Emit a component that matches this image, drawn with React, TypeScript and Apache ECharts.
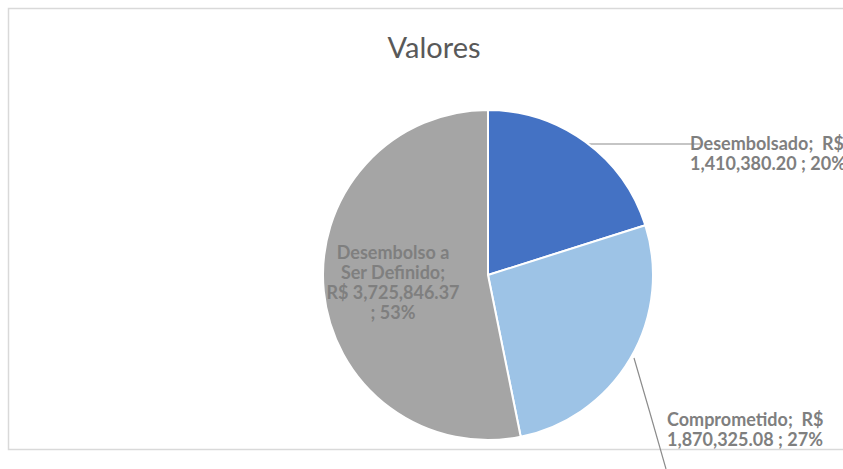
import React, { useEffect, useRef } from "react";
import * as echarts from "echarts";

const categories = ["Desembolsado", "Comprometido", "Desembolso a Ser Definido"];
const values = [1410380.2, 1870325.08, 3725846.37];
const percents = ["20%", "27%", "53%"];
const colors = ["#4472C4", "#9DC3E6", "#A5A5A5"];
const chartTitle = "Valores";

const fmt = (v: number) =>
  v.toLocaleString("en-US", { minimumFractionDigits: 2, maximumFractionDigits: 2 });

const labelTexts = [
  `Desembolsado;  R$\n${fmt(values[0])} ; ${percents[0]}`,
  `Comprometido;  R$\n${fmt(values[1])} ; ${percents[1]}`,
  `Desembolso a\nSer Definido;\nR$ ${fmt(values[2])}\n; ${percents[2]}`,
];

export default function App() {
  const ref = useRef<HTMLDivElement>(null);
  useEffect(() => {
    if (!ref.current) return;
    const chart = echarts.init(ref.current, undefined, { renderer: "svg" });
    chart.setOption({
      animation: false,
      backgroundColor: "#ffffff",
      title: {
        text: chartTitle,
        left: 429,
        top: 27,
        textAlign: "center",
        textStyle: { fontFamily: "Lato", fontSize: 29, fontWeight: "normal", color: "#595959" },
      },
      graphic: [
        {
          type: "rect",
          silent: true,
          z: -10,
          shape: { x: 8.5, y: 8.5, width: 900, height: 441 },
          style: { fill: "none", stroke: "#d9d9d9", lineWidth: 1.5 },
        },
      ],
      series: [
        {
          type: "pie",
          center: [488, 275],
          radius: 165,
          startAngle: 90,
          clockwise: true,
          itemStyle: { borderColor: "#ffffff", borderWidth: 2 },
          label: {
            show: true,
            fontFamily: "Lato",
            fontSize: 18,
            fontWeight: "bold",
            color: "#7f7f7f",
            lineHeight: 20,
            textBorderWidth: 0,
            overflow: "none",
            formatter: (p: any) => labelTexts[p.dataIndex],
          },
          labelLine: { show: true, lineStyle: { color: "#8c8c8c", width: 1.2 } },
          labelLayout: (params: any) => {
            const i = params.dataIndex;
            if (i === 0) {
              return {
                x: 690,
                y: 153,
                align: "left",
                verticalAlign: "middle",
                labelLinePoints: [
                  [588, 144],
                  [640, 144],
                  [700, 144],
                ],
              };
            }
            if (i === 1) {
              return {
                x: 667,
                y: 429,
                align: "left",
                verticalAlign: "middle",
                width: 200,
                labelLinePoints: [
                  [634, 358],
                  [650, 413],
                  [666, 469],
                ],
              };
            }
            return {
              x: 393,
              y: 282,
              align: "center",
              verticalAlign: "middle",
            };
          },
          data: categories.map((c, i) => ({
            name: c,
            value: values[i],
            itemStyle: { color: colors[i] },
            label:
              i === 2
                ? { position: "inside", textBorderWidth: 0, color: "#7f7f7f", overflow: "none" }
                : { position: "outside", overflow: "none" },
            labelLine: { show: i !== 2 },
          })),
        },
      ],
    });
    return () => chart.dispose();
  }, []);
  return (
    <div
      ref={ref}
      style={{ position: "absolute", left: 0, top: 0, width: 843, height: 469 }}
    />
  );
}
